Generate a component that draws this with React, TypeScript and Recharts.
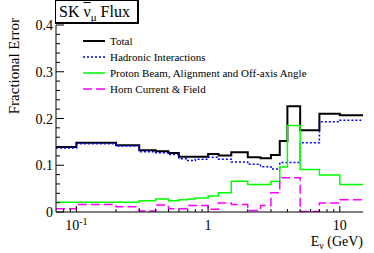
import React from 'react';
import { LineChart, Line, XAxis, YAxis, Legend } from 'recharts';

// bin edges in GeV (last bin runs off the plot to 30 GeV)
const binEdges = [0.07, 0.1, 0.2, 0.3, 0.4, 0.5, 0.6, 0.7, 0.8, 1.0, 1.2, 1.5, 2.0, 2.5, 3.0, 3.5, 4.0, 5.0, 7.0, 10, 30];

const totalErr = [0.139, 0.148, 0.143, 0.132, 0.130, 0.126, 0.118, 0.118, 0.118, 0.124, 0.121, 0.128, 0.117, 0.115, 0.122, 0.152, 0.226, 0.175, 0.210, 0.207];
const hadronErr = [0.137, 0.146, 0.141, 0.129, 0.127, 0.123, 0.114, 0.110, 0.113, 0.117, 0.113, 0.107, 0.102, 0.097, 0.092, 0.106, 0.106, 0.148, 0.193, 0.196];
const beamErr = [0.021, 0.021, 0.021, 0.024, 0.028, 0.024, 0.026, 0.028, 0.030, 0.034, 0.041, 0.066, 0.059, 0.059, 0.065, 0.096, 0.185, 0.091, 0.079, 0.059];
const hornErr = [0.007, 0.016, 0.011, 0.002, 0.015, 0.007, 0.007, 0.014, 0.014, 0.006, 0.019, 0.016, 0.003, 0.014, 0.041, 0.073, 0.073, 0.001, 0.019, 0.026];

const xTicks = [0.08, 0.09, 0.1, 0.2, 0.3, 0.4, 0.5, 0.6, 0.7, 0.8, 0.9, 1, 2, 3, 4, 5, 6, 7, 8, 9, 10];
const xMajor = [0.1, 1, 10];
const yTicks = [0, 0.02, 0.04, 0.06, 0.08, 0.1, 0.12, 0.14, 0.16, 0.18, 0.2, 0.22, 0.24, 0.26, 0.28, 0.3, 0.32, 0.34, 0.36, 0.38, 0.4];
const yMajor = [0, 0.1, 0.2, 0.3, 0.4];

const series = [
    { key: 'total', name: 'Total', color: '#000000', width: 2, dash: undefined },
    { key: 'hadron', name: 'Hadronic Interactions', color: '#0000ff', width: 1.5, dash: '2 2' },
    { key: 'beam', name: 'Proton Beam, Alignment and Off-axis Angle', color: '#00ff00', width: 1.5, dash: undefined },
    { key: 'horn', name: 'Horn Current & Field', color: '#ff00ff', width: 1.5, dash: '9 4' },
];

const chartData = binEdges.map((e, i) => {
    const b = Math.min(i, totalErr.length - 1);
    return { e, total: totalErr[b], hadron: hadronErr[b], beam: beamErr[b], horn: hornErr[b] };
});

const FONT = '"Liberation Serif", "Times New Roman", serif';
const isIn = (v: number, list: number[]) => list.some((m) => Math.abs(m - v) < 1e-9);

const BottomTick = ({ x, y, payload }: any) => {
    const v = payload.value;
    const major = isIn(v, xMajor);
    return (
        <g>
            <line x1={x} x2={x} y1={y} y2={y - (major ? 6 : 3)} stroke="#000" />
            {major && (
                <text x={x} y={y + 18} textAnchor="middle" fontSize={14} fontFamily={FONT} fill="#000">
                    {v === 0.1 ? (
                        <>
                            10<tspan dy={-5} fontSize={10}>-1</tspan>
                        </>
                    ) : (
                        String(v)
                    )}
                </text>
            )}
        </g>
    );
};

const TopTick = ({ x, y, payload }: any) => {
    const major = isIn(payload.value, xMajor);
    return <line x1={x} x2={x} y1={y} y2={y + (major ? 6 : 3)} stroke="#000" />;
};

const LeftTick = ({ x, y, payload }: any) => {
    const v = payload.value;
    const major = isIn(v, yMajor);
    return (
        <g>
            <line x1={x} x2={x + (major ? 8 : 4)} y1={y} y2={y} stroke="#000" />
            {major && (
                <text x={x - 3} y={y + 5} textAnchor="end" fontSize={14} fontFamily={FONT} fill="#000">
                    {v === 0 ? '0' : v.toFixed(1)}
                </text>
            )}
        </g>
    );
};

const RightTick = ({ x, y, payload }: any) => {
    const major = isIn(payload.value, yMajor);
    return <line x1={x} x2={x - (major ? 8 : 4)} y1={y} y2={y} stroke="#000" />;
};

const LegendBox = () => (
    <svg width={260} height={64}>
        {series.map((s, i) => (
            <g key={s.key}>
                <line x1={0} x2={22} y1={8 + i * 16} y2={8 + i * 16} stroke={s.color} strokeWidth={s.width} strokeDasharray={s.dash} />
                <text x={27} y={12 + i * 16} fontSize={11} fontFamily={FONT} fill="#000">
                    {s.name}
                </text>
            </g>
        ))}
    </svg>
);

export default function App() {
    return (
        <div style={{ position: 'absolute', left: 0, top: 0, width: 374, height: 253, background: '#fff' }}>
            <LineChart width={374} height={253} data={chartData} margin={{ top: 25, right: 11, left: 0, bottom: 0 }}>
                <XAxis
                    dataKey="e"
                    type="number"
                    scale="log"
                    domain={[0.07, 15]}
                    allowDataOverflow
                    ticks={xTicks}
                    interval={0}
                    height={41}
                    tickSize={0}
                    tickMargin={0}
                    tickLine={false}
                    axisLine={{ stroke: '#000' }}
                    tick={<BottomTick />}
                />
                <XAxis
                    xAxisId="top"
                    orientation="top"
                    dataKey="e"
                    type="number"
                    scale="log"
                    domain={[0.07, 15]}
                    allowDataOverflow
                    ticks={xTicks}
                    interval={0}
                    height={0}
                    tickSize={0}
                    tickMargin={0}
                    tickLine={false}
                    axisLine={{ stroke: '#000' }}
                    tick={<TopTick />}
                />
                <YAxis
                    type="number"
                    domain={[0, 0.4]}
                    allowDataOverflow
                    ticks={yTicks}
                    interval={0}
                    width={56}
                    tickSize={0}
                    tickMargin={0}
                    tickLine={false}
                    axisLine={{ stroke: '#000' }}
                    tick={<LeftTick />}
                />
                <YAxis
                    yAxisId="right"
                    orientation="right"
                    type="number"
                    domain={[0, 0.4]}
                    ticks={yTicks}
                    interval={0}
                    width={0}
                    tickSize={0}
                    tickMargin={0}
                    tickLine={false}
                    axisLine={{ stroke: '#000' }}
                    tick={<RightTick />}
                />
                <Legend
                    layout="vertical"
                    align="center"
                    verticalAlign="middle"
                    wrapperStyle={{ position: 'absolute', left: 83, top: 33, width: 260, lineHeight: 0 }}
                    content={() => <LegendBox />}
                />
                {series.map((s) => (
                    <Line
                        key={s.key}
                        type="stepAfter"
                        dataKey={s.key}
                        name={s.name}
                        stroke={s.color}
                        strokeWidth={s.width}
                        strokeDasharray={s.dash}
                        dot={false}
                        activeDot={false}
                        isAnimationActive={false}
                    />
                ))}
            </LineChart>
            <svg width={374} height={253} style={{ position: 'absolute', left: 0, top: 0, pointerEvents: 'none' }}>
                <text x={19} y={18} transform="rotate(-90 19 18)" textAnchor="end" fontSize={15} fontFamily={FONT} fill="#000">
                    Fractional Error
                </text>
                <text x={363} y={246} textAnchor="end" fontSize={14} fontFamily={FONT} fill="#000">
                    E<tspan dy={3} fontSize={10}>ν</tspan>
                    <tspan dy={-3}> (GeV)</tspan>
                </text>
            </svg>
            <div
                style={{
                    position: 'absolute',
                    left: 55,
                    top: 0,
                    width: 78,
                    height: 21,
                    border: '1px solid #000',
                    borderRightWidth: 2,
                    borderBottomWidth: 2,
                    background: '#fff',
                    fontFamily: FONT,
                    fontSize: 16,
                    lineHeight: '21px',
                    paddingLeft: 3,
                    boxSizing: 'content-box',
                    whiteSpace: 'nowrap',
                }}
            >
                SK <span style={{ textDecoration: 'overline' }}>ν</span>
                <span style={{ fontSize: 11, position: 'relative', top: 4 }}>μ</span> Flux
            </div>
        </div>
    );
}
